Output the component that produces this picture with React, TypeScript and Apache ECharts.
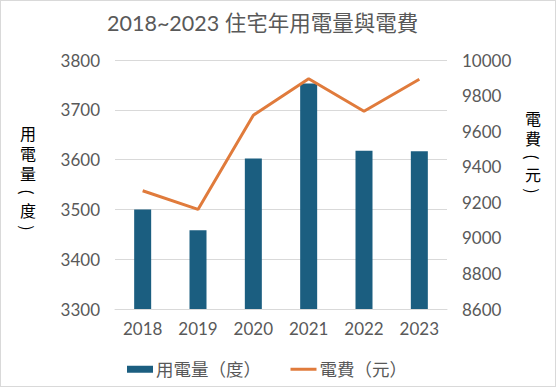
import React, { useEffect, useRef } from "react";
import * as echarts from "echarts";

const years = ["2018", "2019", "2020", "2021", "2022", "2023"];
const usage = [3500, 3458, 3602, 3753, 3618, 3617];
const cost = [9265, 9160, 9690, 9895, 9712, 9892];
const usageName = "用電量（度）";
const costName = "電費（元）";
const title = "2018~2023 住宅年用電量與電費";
const leftAxisChars = ["用", "電", "量", "(", "度", ")"];
const rightAxisChars = ["電", "費", "(", "元", ")"];

const FONT = "'Lato', 'Noto Sans CJK TC', sans-serif";
const CJK = "'Noto Sans CJK TC', sans-serif";
const GRAY = "#595959";

function verticalName(chars: string[], cx: number, ys: number[]) {
  return chars.map((ch, i) => {
    const isParen = ch === "(" || ch === ")";
    return {
      type: "text",
      x: cx,
      y: ys[i],
      rotation: isParen ? -Math.PI / 2 : 0,
      style: {
        text: ch,
        fontSize: 16,
        lineHeight: 17,
        fontFamily: CJK,
        fill: "#000",
        align: "center",
        verticalAlign: "middle",
      },
    };
  });
}

export default function App() {
  const ref = useRef<HTMLDivElement>(null);
  useEffect(() => {
    if (!ref.current) return;
    const chart = echarts.init(ref.current, null, { renderer: "svg" });
    chart.setOption({
      animation: false,
      textStyle: { fontFamily: FONT },
      title: {
        text: title,
        left: 101,
        top: 6,
        textStyle: { fontFamily: FONT, fontSize: 21.5, fontWeight: "normal", color: GRAY },
      },
      legend: {
        bottom: 8,
        left: 126,
        padding: 0,
        itemGap: 28,
        itemWidth: 26,
        itemHeight: 7,
        textStyle: { fontFamily: FONT, fontSize: 17.5, color: GRAY, padding: [0, 0, 0, -2] },
        data: [
          { name: usageName, icon: "rect" },
          { name: costName, itemStyle: { opacity: 0 }, lineStyle: { width: 3 } },
        ],
      },
      grid: { left: 114, right: 108, top: 59, bottom: 77, containLabel: false },
      xAxis: {
        type: "category",
        data: years,
        axisTick: { show: false },
        axisLine: { lineStyle: { color: "#d9d9d9" } },
        axisLabel: { fontSize: 17, color: GRAY, margin: 11, fontFamily: FONT },
      },
      yAxis: [
        {
          type: "value",
          min: 3300,
          max: 3800,
          interval: 100,
          splitLine: { lineStyle: { color: "#d9d9d9" } },
          axisLabel: { fontSize: 17, color: GRAY, margin: 15, fontFamily: FONT, formatter: (v: number) => String(v) },
        },
        {
          type: "value",
          min: 8600,
          max: 10000,
          interval: 200,
          splitLine: { show: false },
          axisLabel: { fontSize: 17, color: GRAY, margin: 15, fontFamily: FONT, formatter: (v: number) => String(v) },
        },
      ],
      graphic: [
        ...verticalName(leftAxisChars, 27, [132, 152, 172, 191, 209, 227]),
        ...verticalName(rightAxisChars, 532, [117, 137, 156, 173, 190]),
      ],
      series: [
        {
          name: usageName,
          type: "bar",
          data: usage,
          barWidth: 17,
          itemStyle: { color: "#1b5e80" },
        },
        {
          name: costName,
          type: "line",
          yAxisIndex: 1,
          data: cost,
          symbol: "none",
          lineStyle: { color: "#e07b3c", width: 3 },
          itemStyle: { color: "#e07b3c" },
        },
      ],
    });
    return () => chart.dispose();
  }, []);
  return (
    <div
      style={{
        position: "fixed",
        left: 0,
        top: 0,
        width: 556,
        height: 387,
        boxSizing: "border-box",
        border: "1px solid #d9d9d9",
        background: "#fff",
      }}
    >
      <div ref={ref} style={{ width: 554, height: 385 }} />
    </div>
  );
}
